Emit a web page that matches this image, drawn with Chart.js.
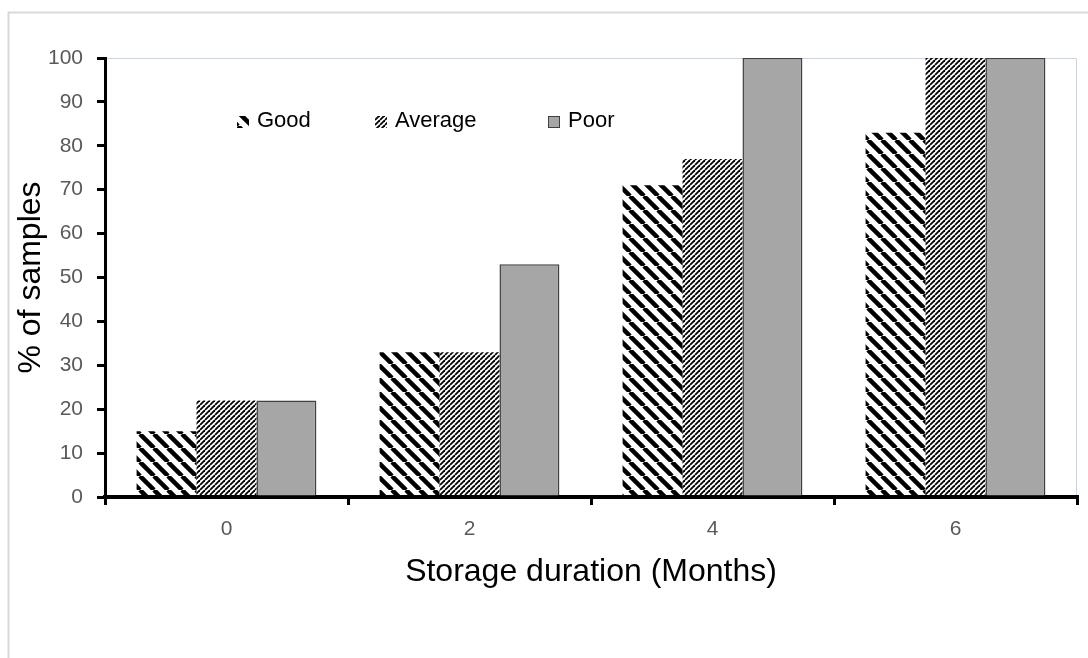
<!DOCTYPE html>
<html>
<head>
<meta charset="utf-8">
<title>Storage duration</title>
<script src="https://cdn.jsdelivr.net/npm/chart.js@4"></script>
<style>
  body { margin: 0; background: #fff; }
  canvas { display: block; }
</style>
</head>
<body>
<canvas id="myChart" width="1088" height="658"></canvas>
<script>
// Données
const months = ['0', '2', '4', '6'];
const good = [15, 33, 71, 83];
const average = [22, 33, 77, 100];
const poor = [22, 53, 100, 100];
const yTicks = [0, 10, 20, 30, 40, 50, 60, 70, 80, 90, 100];

const font = '"Liberation Sans", Arial, sans-serif';

// Motif à grosses rayures "\" pour Good
function stripesThick() {
    const c = document.createElement('canvas');
    c.width = 14; c.height = 14;
    const g = c.getContext('2d');
    g.strokeStyle = '#000';
    g.lineWidth = 4.5;
    for (const o of [-14, 0, 14]) {
        g.beginPath();
        g.moveTo(o, 0);
        g.lineTo(o + 14, 14);
        g.stroke();
    }
    return g.createPattern(c, 'repeat');
}

// Motif à fines rayures "/" pour Average
function stripesThin() {
    const c = document.createElement('canvas');
    c.width = 5; c.height = 5;
    const g = c.getContext('2d');
    g.strokeStyle = '#000';
    g.lineWidth = 1.8;
    for (const o of [-5, 0, 5]) {
        g.beginPath();
        g.moveTo(o, 5);
        g.lineTo(o + 5, 0);
        g.stroke();
    }
    return g.createPattern(c, 'repeat');
}

// Cadre gris et bordure bleutée de la zone de tracé
const framePlugin = {
    id: 'frame',
    beforeDraw(chart) {
        const ctx = chart.ctx;
        ctx.save();
        ctx.strokeStyle = '#d9d9d9';
        ctx.lineWidth = 2;
        ctx.beginPath();
        ctx.moveTo(8.5, chart.height);
        ctx.lineTo(8.5, 12.5);
        ctx.lineTo(chart.width, 12.5);
        ctx.stroke();
        const a = chart.chartArea;
        ctx.strokeStyle = '#c6d4ee';
        ctx.lineWidth = 1;
        ctx.beginPath();
        ctx.moveTo(a.left, a.top + 0.5);
        ctx.lineTo(a.right - 0.5, a.top + 0.5);
        ctx.lineTo(a.right - 0.5, a.bottom);
        ctx.stroke();
        ctx.restore();
    }
};

// Légende dessinée dans la zone de tracé
const legendPlugin = {
    id: 'insideLegend',
    afterDraw(chart) {
        const ctx = chart.ctx;
        const xs = [237, 375, 548];
        const y = 122;
        ctx.save();
        ctx.font = '22px ' + font;
        ctx.textBaseline = 'middle';
        chart.data.datasets.forEach((ds, i) => {
            ctx.fillStyle = ds.backgroundColor;
            ctx.fillRect(xs[i], y - 6, 12, 12);
            if (ds.borderWidth) {
                ctx.strokeStyle = ds.borderColor;
                ctx.lineWidth = 1;
                ctx.strokeRect(xs[i] + 0.5, y - 5.5, 11, 11);
            }
            ctx.fillStyle = '#000';
            ctx.fillText(ds.label, xs[i] + 20, y - 1);
        });
        ctx.restore();
    }
};

const ctx = document.getElementById('myChart').getContext('2d');

const myChart = new Chart(ctx, {
    type: 'bar',
    data: {
        labels: months,
        datasets: [{
            label: 'Good',
            data: good,
            backgroundColor: stripesThick(),
            borderWidth: 0
        }, {
            label: 'Average',
            data: average,
            backgroundColor: stripesThin(),
            borderWidth: 0
        }, {
            label: 'Poor',
            data: poor,
            backgroundColor: '#a6a6a6',
            borderColor: '#404040',
            borderWidth: 1.5
        }]
    },
    options: {
        responsive: false,
        animation: false,
        devicePixelRatio: 1,
        layout: { padding: { left: 0, top: 58, right: 11, bottom: 0 } },
        datasets: { bar: { categoryPercentage: 0.74, barPercentage: 1.0 } },
        plugins: {
            legend: { display: false },
            tooltip: { enabled: false }
        },
        scales: {
            x: {
                afterFit(scale) { scale.height = 161; },
                grid: {
                    drawOnChartArea: false,
                    drawTicks: true,
                    tickLength: 8,
                    color: '#000',
                    lineWidth: 3
                },
                border: { color: '#000', width: 4 },
                ticks: {
                    color: '#595959',
                    font: { family: font, size: 21 },
                    padding: 12
                },
                title: {
                    display: true,
                    text: 'Storage duration (Months)',
                    color: '#000',
                    font: { family: font, size: 32 },
                    padding: { top: 0, bottom: 67 }
                }
            },
            y: {
                min: 0,
                max: 100,
                afterFit(scale) { scale.width = 105; },
                afterBuildTicks(scale) { scale.ticks = yTicks.map(v => ({ value: v })); },
                grid: {
                    drawOnChartArea: false,
                    drawTicks: true,
                    tickLength: 8,
                    color: '#000',
                    lineWidth: 3
                },
                border: { color: '#000', width: 3 },
                ticks: {
                    color: '#595959',
                    font: { family: font, size: 21 },
                    padding: 14
                },
                title: {
                    display: true,
                    text: '% of samples',
                    color: '#000',
                    font: { family: font, size: 32 },
                    padding: { top: 12, bottom: 0 }
                }
            }
        }
    },
    plugins: [framePlugin, legendPlugin]
});
</script>
</body>
</html>
